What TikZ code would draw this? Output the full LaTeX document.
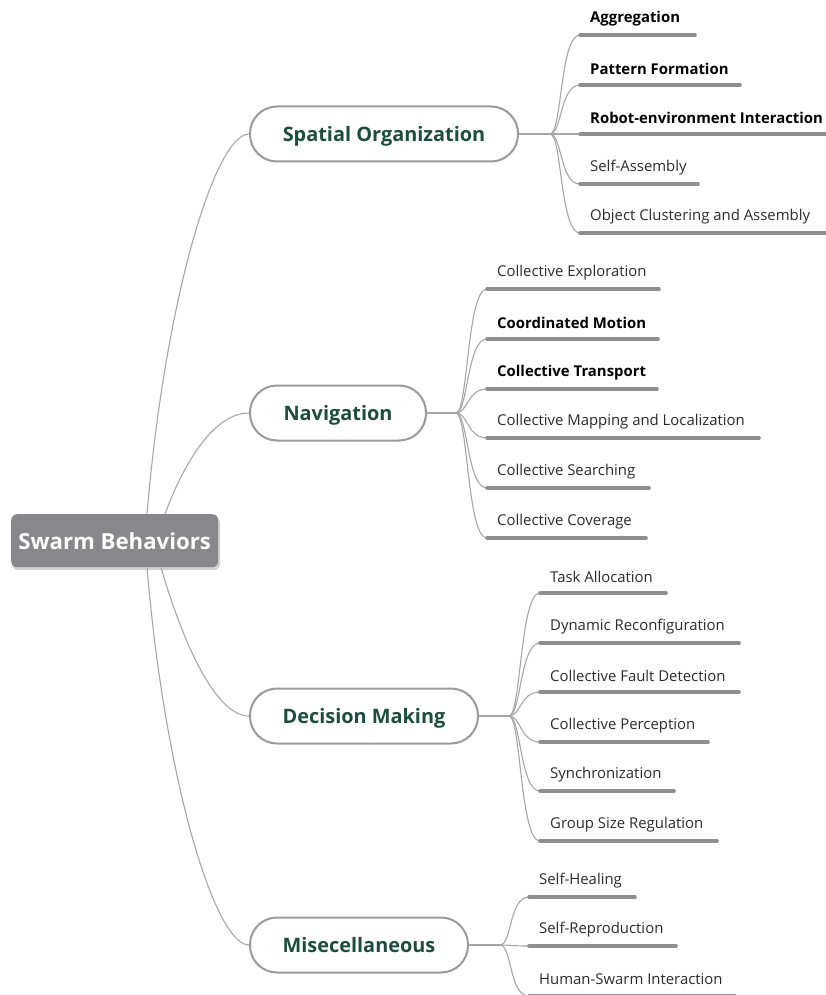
\documentclass[tikz,border=0pt]{standalone}
\usepackage{fontspec}
\setmainfont{Open Sans}
\usetikzlibrary{calc}
\definecolor{rootfill}{HTML}{88888C}
\definecolor{pillborder}{HTML}{9A9A9A}
\definecolor{pilltext}{HTML}{1D4E3B}
\definecolor{connc}{HTML}{A6A6A6}
\definecolor{ulc}{HTML}{8E8E8E}
\definecolor{leafc}{HTML}{2B2B2B}
\tikzset{
  rootbox/.style={draw=none, fill=rootfill, rounded corners=6pt, minimum height=53pt,
     inner sep=0pt, text=white, font=\fontsize{22.2}{26}\selectfont\bfseries},
  pill/.style={draw=pillborder, line width=2pt, fill=white, rounded corners=27pt,
     minimum height=55pt, inner sep=0pt, text depth=0pt, text=pilltext,
     font=\fontsize{19.9}{23}\selectfont\bfseries},
  conn/.style={draw=connc, line width=1.1pt},
  uline/.style={draw=ulc, line width=3.6pt, line cap=round},
  leaftext/.style={inner sep=0pt, text=leafc, font=\fontsize{14.9}{18}\selectfont},
  leafbold/.style={text=black, font=\fontsize{14.9}{18}\selectfont\bfseries},
  leafnorm/.style={}
}
\newcommand{\mkleaf}[7]{%
  \coordinate (#1s) at (#3,#4);
  \coordinate (#1e) at (#5,#4);
  \draw[conn] (#2) .. controls ($(#2)+(12,0)$) and ($(#1s)+(-20,0)$) .. (#1s);
  \draw[uline] (#1s) -- (#1e);
  \node[leaftext,#6,anchor=west] (#1) at ($(#1s)+(10,-16.5)$) {#7};
}
\begin{document}
\begin{tikzpicture}[x=1pt,y=-1pt]
\useasboundingbox (0,0) rectangle (825,995);
% root
\fill[black,opacity=0.18,rounded corners=6pt] (12,517) rectangle (220,570);
\node[rootbox, minimum width=207pt, anchor=north west] (root) at (11,514) {Swarm Behaviors};
% main branches
\node[pill, minimum width=268pt, anchor=west] (sp) at (249,134) {Spatial Organization};
\node[pill, minimum width=176pt, anchor=west] (nav) at (249,413) {Navigation};
\node[pill, minimum width=228pt, anchor=west] (dm) at (249,716) {Decision Making};
\node[pill, minimum width=218pt, anchor=west] (misc) at (249,945) {Misecellaneous};
% root connectors
\coordinate (r1) at ($(root.north west)+(136,0)$);
\coordinate (r2) at ($(root.north west)+(154,0)$);
\coordinate (r3) at ($(root.south west)+(150,0)$);
\coordinate (r4) at ($(root.south west)+(136,0)$);
\draw[conn] (r1) .. controls (165,300) and (215,134) .. (sp.west);
\draw[conn] (r2) .. controls (185,460) and (215,413) .. (nav.west);
\draw[conn] (r3) .. controls (182,640) and (215,716) .. (dm.west);
\draw[conn] (r4) .. controls (165,781) and (215,945) .. (misc.west);
% branch points
\coordinate (bsp) at ($(sp.east)+(31,0)$);
\coordinate (bnav) at ($(nav.east)+(29,0)$);
\coordinate (bdm) at ($(dm.east)+(30,0)$);
\coordinate (bmisc) at ($(misc.east)+(31,0)$);
\draw[conn] (sp.east) -- (bsp);
\draw[conn] (nav.east) -- (bnav);
\draw[conn] (dm.east) -- (bdm);
\draw[conn] (misc.east) -- (bmisc);
% Spatial Organization leaves
\mkleaf{a1}{bsp}{580}{35}{695}{leafbold}{Aggregation}
\mkleaf{a2}{bsp}{580}{85}{740}{leafbold}{Pattern Formation}
\mkleaf{a3}{bsp}{580}{134}{826}{leafbold}{Robot-environment Interaction}
\mkleaf{a4}{bsp}{580}{184}{698}{leafnorm}{Self-Assembly}
\mkleaf{a5}{bsp}{580}{233}{826}{leafnorm}{Object Clustering and Assembly}
% Navigation leaves
\mkleaf{b1}{bnav}{487}{289}{659}{leafnorm}{Collective Exploration}
\mkleaf{b2}{bnav}{487}{339}{658}{leafbold}{Coordinated Motion}
\mkleaf{b3}{bnav}{487}{389}{657}{leafbold}{Collective Transport}
\mkleaf{b4}{bnav}{487}{438}{759}{leafnorm}{Collective Mapping and Localization}
\mkleaf{b5}{bnav}{487}{488}{649}{leafnorm}{Collective Searching}
\mkleaf{b6}{bnav}{487}{538}{646}{leafnorm}{Collective Coverage}
% Decision Making leaves
\mkleaf{c1}{bdm}{540}{593}{666}{leafnorm}{Task Allocation}
\mkleaf{c2}{bdm}{540}{643}{739}{leafnorm}{Dynamic Reconfiguration}
\mkleaf{c3}{bdm}{540}{692}{739}{leafnorm}{Collective Fault Detection}
\mkleaf{c4}{bdm}{540}{742}{708}{leafnorm}{Collective Perception}
\mkleaf{c5}{bdm}{540}{791}{674}{leafnorm}{Synchronization}
\mkleaf{c6}{bdm}{540}{841}{717}{leafnorm}{Group Size Regulation}
% Misc leaves
\mkleaf{d1}{bmisc}{529}{897}{635}{leafnorm}{Self-Healing}
\mkleaf{d2}{bmisc}{529}{946}{676}{leafnorm}{Self-Reproduction}
\mkleaf{d3}{bmisc}{529}{996}{735}{leafnorm}{Human-Swarm Interaction}
\end{tikzpicture}
\end{document}
